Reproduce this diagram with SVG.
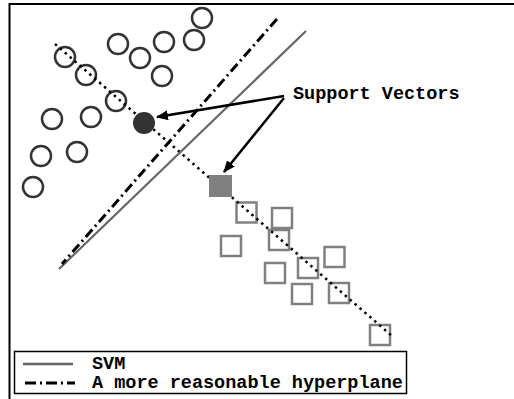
<svg xmlns="http://www.w3.org/2000/svg" width="514" height="399" viewBox="0 0 514 399">
  <style>
    .pos { fill: none; stroke: #333; stroke-width: 2.5; }
    .neg { fill: none; stroke: #808080; stroke-width: 2.5; }
    .svm { stroke: #666; stroke-width: 2.2; fill: none; }
    .alt { stroke: #000; stroke-width: 3; stroke-dasharray: 10 4 2 4; fill: none; }
    .dots { stroke: #000; stroke-width: 2.5; stroke-dasharray: 2.5 4; fill: none; }
    .ptr { stroke: #000; stroke-width: 2.5; fill: none; marker-end: url(#head); }
    .lbl { font-family: "Liberation Mono", "Courier New", monospace; font-weight: bold; font-size: 18.5px; fill: #000; }
  </style>
  <defs>
    <marker id="head" viewBox="0 0 12 10" refX="11" refY="5" markerWidth="12" markerHeight="10" markerUnits="userSpaceOnUse" orient="auto">
      <path d="M0,0 L12,5 L0,10 Z" fill="#000"/>
    </marker>
  </defs>
  <rect width="514" height="399" fill="#fff"/>
  <!-- outer frame (right and bottom edges lie beyond the canvas) -->
  <rect x="9.5" y="4" width="520" height="420" fill="none" stroke="#000" stroke-width="2"/>

  <!-- class +1 samples -->
  <g id="circles">
    <circle class="pos" cx="202" cy="18" r="10"/>
    <circle class="pos" cx="194" cy="40" r="10"/>
    <circle class="pos" cx="164" cy="42" r="10"/>
    <circle class="pos" cx="118" cy="44" r="10"/>
    <circle class="pos" cx="140" cy="58" r="10"/>
    <circle class="pos" cx="162" cy="76" r="10"/>
    <circle class="pos" cx="65" cy="57" r="10"/>
    <circle class="pos" cx="86" cy="75" r="10"/>
    <circle class="pos" cx="116" cy="101" r="10"/>
    <circle class="pos" cx="52" cy="119" r="10"/>
    <circle class="pos" cx="91" cy="117" r="10"/>
    <circle class="pos" cx="41" cy="156" r="10"/>
    <circle class="pos" cx="77" cy="152" r="10"/>
    <circle class="pos" cx="33" cy="187" r="10"/>
  </g>

  <!-- class -1 samples -->
  <g id="squares">
    <rect class="neg" x="236.5" y="202.5" width="20" height="20"/>
    <rect class="neg" x="272" y="208" width="20" height="20"/>
    <rect class="neg" x="221" y="236" width="20" height="20"/>
    <rect class="neg" x="269" y="230" width="20" height="20"/>
    <rect class="neg" x="324.5" y="247" width="20" height="20"/>
    <rect class="neg" x="298" y="258" width="20" height="20"/>
    <rect class="neg" x="265" y="263" width="20" height="20"/>
    <rect class="neg" x="292" y="284" width="20" height="20"/>
    <rect class="neg" x="329" y="283" width="20" height="20"/>
    <rect class="neg" x="370" y="325" width="20" height="20"/>
  </g>

  <!-- separating lines and the dotted line through the support vectors -->
  <g id="connectors">
    <line class="dots" x1="55" y1="44" x2="392" y2="336"/>
    <line class="svm" x1="306" y1="31" x2="59" y2="269"/>
    <line class="alt" x1="277" y1="19" x2="62" y2="264"/>
    <line class="ptr" x1="284" y1="96" x2="157" y2="117"/>
    <line class="ptr" x1="284" y1="98" x2="224" y2="172"/>
  </g>

  <!-- support vectors -->
  <g id="sv-circle">
    <circle cx="144" cy="123" r="11" fill="#333"/>
  </g>
  <g id="sv-square">
    <rect x="209" y="175" width="23" height="22" fill="#808080"/>
  </g>

  <g id="label">
    <text class="lbl" x="293" y="99">Support Vectors</text>
  </g>

  <g id="legend">
    <rect x="14.5" y="351.5" width="392" height="42" fill="#fff" stroke="#000" stroke-width="1.5"/>
    <line x1="23" y1="364" x2="73" y2="364" stroke="#666" stroke-width="2.5"/>
    <line x1="25" y1="383" x2="75" y2="383" stroke="#000" stroke-width="3" stroke-dasharray="11 4 2 4"/>
    <text class="lbl" x="92" y="369">SVM</text>
    <text class="lbl" x="92" y="388">A more reasonable hyperplane</text>
  </g>
</svg>
